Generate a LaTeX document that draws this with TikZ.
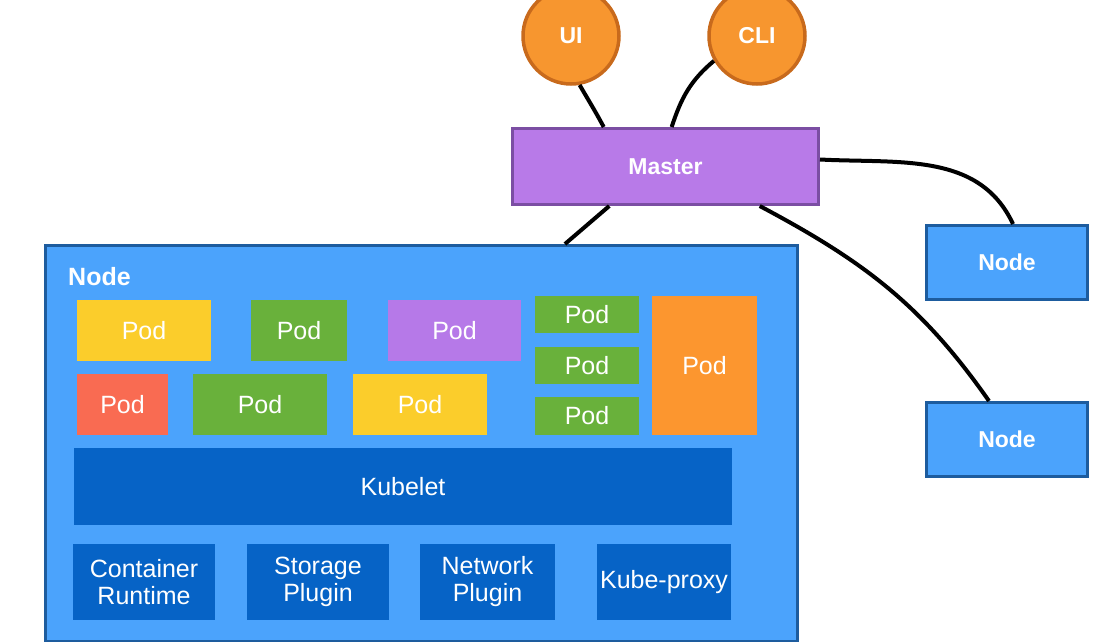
\documentclass[tikz,border=0pt]{standalone}
\usepackage{fontspec}
\setmainfont{Liberation Sans}
\usetikzlibrary{positioning}
\usetikzlibrary{calc}

\definecolor{hostblue}{HTML}{4BA3FC}
\definecolor{hostborder}{HTML}{1D5C9E}
\definecolor{kubeblue}{HTML}{0663C6}
\definecolor{podyellow}{HTML}{FBCD2B}
\definecolor{podgreen}{HTML}{69B13B}
\definecolor{podpurple}{HTML}{B679E8}
\definecolor{podred}{HTML}{F96B52}
\definecolor{podorange}{HTML}{FC962F}
\definecolor{masterpurple}{HTML}{B87AE8}
\definecolor{masterborder}{HTML}{7B4EA3}
\definecolor{clientorange}{HTML}{F7962F}
\definecolor{clientborder}{HTML}{C86A1C}

\begin{document}
\begin{tikzpicture}[x=1pt,y=1pt]
\tikzset{pod/.style={rectangle, anchor=north west, inner sep=0pt, outer sep=0pt, minimum height=61pt, text=white, font=\fontsize{25}{27}\selectfont}}
\tikzset{component/.style={pod, fill=kubeblue, align=center, minimum height=76pt}}
\tikzset{client/.style={circle, minimum size=96pt, inner sep=0pt, fill=clientorange, draw=clientborder, line width=3.5pt, text=white, font=\fontsize{23}{26}\selectfont\bfseries}}
\tikzset{hostbox/.style={rectangle, anchor=north west, inner sep=0pt, fill=hostblue, draw=hostborder, line width=3pt, text=white, font=\fontsize{23}{26}\selectfont\bfseries}}
\tikzset{link/.style={line width=4pt}}
\useasboundingbox (0,0) rectangle (1111,-642);

% master side
\node[client] (ui) at (571,-36) {UI};
\node[client] (cli) at (757,-36) {CLI};
\node[hostbox, fill=masterpurple, draw=masterborder, minimum width=306pt, minimum height=76pt] (master) at (511,-127) {Master};
\node[hostbox, minimum width=161pt, minimum height=74pt] (node1) at (925,-224) {Node};
\node[hostbox, minimum width=161pt, minimum height=74pt, below=100pt of node1.south west, anchor=north west] (node2) {Node};

% the big node
\node[hostbox, minimum width=752pt, minimum height=396pt] (host) at (44,-244) {};
\node[text=white, font=\fontsize{25}{26}\selectfont\bfseries, anchor=west, inner sep=0pt] (hostlabel) at (68,-277) {Node};

\node[pod, fill=podyellow, minimum width=134pt] (pod1) at (77,-300) {Pod};
\node[pod, fill=podgreen, minimum width=96pt] (pod2) at (251,-300) {Pod};
\node[pod, fill=podpurple, minimum width=133pt] (pod3) at (388,-300) {Pod};
\node[pod, fill=podred, minimum width=91pt] (pod4) at (77,-374) {Pod};
\node[pod, fill=podgreen, minimum width=134pt] (pod5) at (193,-374) {Pod};
\node[pod, fill=podyellow, minimum width=134pt] (pod6) at (353,-374) {Pod};
\node[pod, fill=podgreen, minimum width=104pt, minimum height=37pt] (pod7) at (535,-296) {Pod};
\node[pod, fill=podgreen, minimum width=104pt, minimum height=37pt, below=14pt of pod7.south west, anchor=north west] (pod8) {Pod};
\node[pod, fill=podgreen, minimum width=104pt, minimum height=38pt, below=13pt of pod8.south west, anchor=north west] (pod9) {Pod};
\node[pod, fill=podorange, minimum width=105pt, minimum height=139pt] (pod10) at (652,-296) {Pod};

\node[component, minimum width=658pt, minimum height=77pt] (kubelet) at (74,-448) {Kubelet};
\node[component, minimum width=142pt] (runtime) at (73,-544) {Container\\Runtime};
\node[component, minimum width=142pt] (storage) at (247,-544) {Storage\\Plugin};
\node[component, minimum width=135pt] (network) at (420,-544) {Network\\Plugin};
\node[component, minimum width=134pt] (proxy) at (597,-544) {Kube-proxy};

% connectors
\draw[link] (ui.-80) to[out=-60,in=118] ($(master.north west)!0.3!(master.north east)$);
\draw[link] (cli.210) to[out=220,in=72] ($(master.north west)!0.52!(master.north east)$);
\draw[link] ($(master.south west)!0.318!(master.south east)$) -- ($(host.north west)!0.69!(host.north east)$);
\draw[link] ($(master.east)+(0,7)$) to[out=-3,in=115] ($(node1.north)+(6,0)$);
\draw[link] ($(master.south west)!0.805!(master.south east)$) to[out=-28,in=125] ($(node2.north)+(-18,0)$);
\end{tikzpicture}
\end{document}
